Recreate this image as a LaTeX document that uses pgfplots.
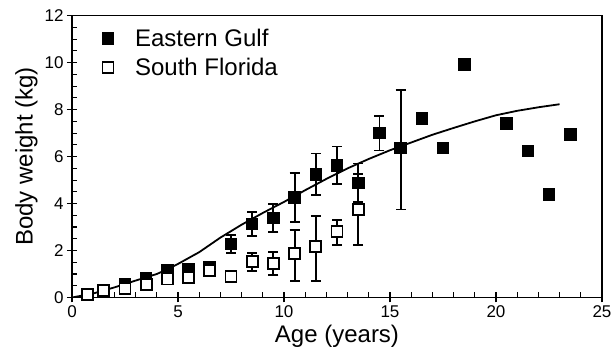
\documentclass[border=0pt]{standalone}
\usepackage{fontspec}
\setmainfont{Liberation Sans}
\usepackage{pgfplots}
\usepackage{pgfplotstable}
\pgfplotsset{compat=1.18}

\pgfplotstableread{
x y ep em
0.75 0.13 0 0
1.5 0.30 0 0
2.5 0.58 0 0
3.5 0.80 0 0
4.5 1.17 0 0
5.5 1.18 0 0
6.5 1.30 0 0
7.5 2.27 0.38 0.38
8.5 3.13 0.52 0.52
9.5 3.38 0.59 0.59
10.5 4.25 1.05 1.05
11.5 5.25 0.88 0.88
12.5 5.63 0.80 0.80
13.5 4.88 0.83 0.83
14.5 7.00 0.74 0.74
15.5 6.37 2.46 2.62
16.5 7.62 0 0
17.5 6.37 0 0
18.5 9.92 0 0
20.5 7.41 0 0
21.5 6.23 0 0
22.5 4.39 0 0
23.5 6.94 0 0
}\eastern

\pgfplotstableread{
x y
0.75 0.12
1.5 0.30
2.5 0.40
3.5 0.57
4.5 0.79
5.5 0.84
6.5 1.14
7.5 0.90
8.5 1.52
9.5 1.46
10.5 1.86
11.5 2.16
12.5 2.80
13.5 3.75
}\southfl

\pgfplotstableread{
x y ep em
8.5 1.52 0.39 0.39
9.5 1.46 0.49 0.49
10.5 1.86 1.00 1.16
11.5 2.16 1.31 1.46
12.5 2.80 0.50 0.57
13.5 3.75 1.50 1.52
}\southerr

\pgfplotstableread{
x y
0 0
1 0.17
2 0.43
3 0.72
4 1.00
4.5 1.20
5 1.43
6 1.93
7 2.55
8 3.10
9 3.60
10 4.07
11 4.57
12 5.05
13 5.50
14 5.90
15 6.27
16 6.60
17 6.93
18 7.22
19 7.50
20 7.76
21 7.95
22 8.10
23 8.23
}\fitcurve

\begin{document}
\begin{tikzpicture}[x=1pt,y=1pt]
\path[use as bounding box] (-72,-60.5) rectangle (539,297.5);
\begin{axis}[
  scale only axis, width=530pt, height=281.8pt,
  at={(0,0)}, anchor=south west,
  xmin=0, xmax=25, ymin=0, ymax=12,
  xtick={0,5,...,25}, ytick={0,2,...,12},
  minor x tick num=4, minor y tick num=3,
  tick pos=left, tick align=center,
  major tick length=10pt, minor tick length=5pt,
  minor x tick style={yshift=2.5pt},
  minor y tick style={xshift=2.5pt},
  tick style={black, line width=1.1pt},
  axis line style={line width=1.1pt},
  tick label style={font=\fontsize{17}{20}\selectfont},
  /pgf/number format/assume math mode=true,
  xlabel={Age (years)}, ylabel={Body weight (kg)},
  label style={font=\fontsize{24}{28}\selectfont},
  legend cell align=left,
  legend style={draw=none, fill=none, at={(0.05,0.967)}, anchor=north west,
    font=\fontsize{24}{28}\selectfont, row sep=6pt},
  legend image code/.code={\path (-6pt,0pt) (25pt,0pt); \draw[#1] plot coordinates {(0pt,0pt)};},
]
\addplot[black, line width=1.8pt, forget plot] table[x=x,y=y] {\fitcurve};

\addplot[only marks, mark=square*, mark size=5.8pt,
  mark options={fill=black, draw=black, line width=1pt},
  error bars/.cd, y dir=both, y explicit,
  error bar style={line width=1.8pt, black},
  error mark options={rotate=90, mark size=5pt, line width=1.8pt, black}]
  table[x=x, y=y, y error plus=ep, y error minus=em] {\eastern};
\addlegendentry{Eastern Gulf}

\addplot[only marks, mark=square*, mark size=5.5pt,
  mark options={fill=white, draw=black, line width=1.8pt}]
  table[x=x, y=y] {\southfl};
\addlegendentry{South Florida}

\addplot[only marks, mark=square*, mark size=5.5pt, forget plot,
  mark options={fill=white, draw=black, line width=1.8pt},
  error bars/.cd, y dir=both, y explicit,
  error bar style={line width=1.8pt, black},
  error mark options={rotate=90, mark size=5pt, line width=1.8pt, black}]
  table[x=x, y=y, y error plus=ep, y error minus=em] {\southerr};
\end{axis}
\end{tikzpicture}
\end{document}
